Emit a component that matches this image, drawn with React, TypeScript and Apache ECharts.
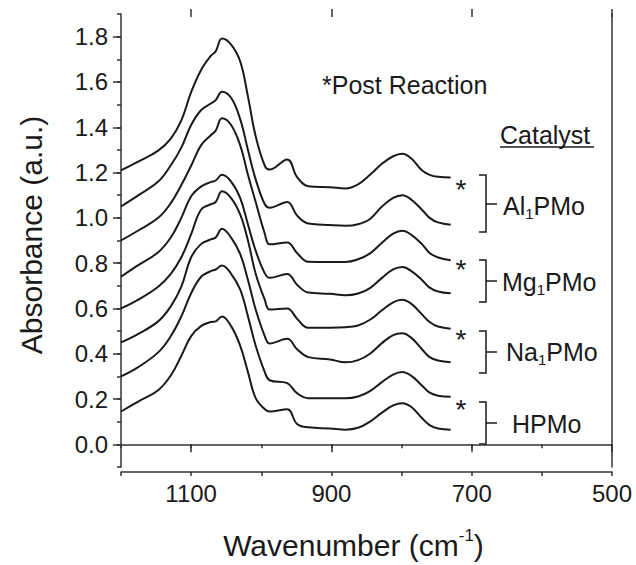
import React, { useEffect, useRef } from "react";
import * as echarts from "echarts";

const wavenumbers = [1200, 1176, 1147, 1129, 1114, 1100, 1086, 1072, 1065, 1056, 1043, 1030, 1019, 1008, 995, 988, 963, 949, 933, 902, 880, 862, 845, 828, 812, 799, 786, 771, 760, 748, 730];

const al1Post = [1.21, 1.247, 1.297, 1.35, 1.43, 1.555, 1.652, 1.715, 1.735, 1.792, 1.765, 1.69, 1.535, 1.36, 1.23, 1.213, 1.258, 1.18, 1.14, 1.135, 1.13, 1.148, 1.19, 1.239, 1.272, 1.283, 1.262, 1.21, 1.19, 1.181, 1.178];
const al1Fresh = [1.05, 1.098, 1.16, 1.232, 1.31, 1.41, 1.475, 1.505, 1.52, 1.557, 1.53, 1.435, 1.3, 1.17, 1.06, 1.045, 1.07, 1.01, 0.975, 0.968, 0.965, 0.972, 0.995, 1.05, 1.088, 1.1, 1.08, 1.036, 1.0, 0.98, 0.97];
const mg1Post = [0.9, 0.943, 1.0, 1.065, 1.145, 1.23, 1.32, 1.365, 1.385, 1.44, 1.41, 1.32, 1.19, 1.07, 0.93, 0.883, 0.891, 0.845, 0.806, 0.805, 0.805, 0.817, 0.843, 0.89, 0.93, 0.943, 0.925, 0.884, 0.845, 0.825, 0.813];
const mg1Fresh = [0.74, 0.79, 0.848, 0.913, 1.0, 1.095, 1.138, 1.158, 1.165, 1.19, 1.16, 1.087, 0.971, 0.855, 0.755, 0.735, 0.752, 0.705, 0.67, 0.665, 0.658, 0.666, 0.69, 0.735, 0.772, 0.783, 0.765, 0.726, 0.692, 0.675, 0.667];
const na1Post = [0.6, 0.638, 0.696, 0.753, 0.826, 0.928, 1.036, 1.06, 1.07, 1.117, 1.087, 1.014, 0.9, 0.753, 0.638, 0.595, 0.6, 0.555, 0.515, 0.515, 0.517, 0.525, 0.55, 0.592, 0.627, 0.638, 0.62, 0.574, 0.54, 0.52, 0.51];
const na1Fresh = [0.45, 0.487, 0.543, 0.609, 0.696, 0.826, 0.884, 0.905, 0.913, 0.952, 0.913, 0.84, 0.726, 0.595, 0.478, 0.445, 0.466, 0.42, 0.385, 0.375, 0.362, 0.372, 0.4, 0.447, 0.482, 0.49, 0.47, 0.42, 0.385, 0.37, 0.362];
const hpmoPost = [0.3, 0.34, 0.406, 0.478, 0.565, 0.667, 0.739, 0.765, 0.772, 0.79, 0.753, 0.683, 0.565, 0.435, 0.319, 0.283, 0.27, 0.226, 0.204, 0.204, 0.203, 0.211, 0.235, 0.275, 0.308, 0.319, 0.302, 0.26, 0.228, 0.215, 0.21];
const hpmoFresh = [0.145, 0.188, 0.239, 0.304, 0.391, 0.478, 0.522, 0.54, 0.543, 0.565, 0.522, 0.435, 0.319, 0.204, 0.155, 0.145, 0.155, 0.09, 0.075, 0.07, 0.065, 0.073, 0.1, 0.14, 0.172, 0.182, 0.165, 0.116, 0.085, 0.07, 0.065];

const seriesNames = ["Al1PMo post", "Al1PMo", "Mg1PMo post", "Mg1PMo", "Na1PMo post", "Na1PMo", "HPMo post", "HPMo"];
const seriesValues = [al1Post, al1Fresh, mg1Post, mg1Fresh, na1Post, na1Fresh, hpmoPost, hpmoFresh];

const xTickLabels = [1100, 900, 700, 500];
const yTickLabels = [0, 0.2, 0.4, 0.6, 0.8, 1.0, 1.2, 1.4, 1.6, 1.8];

const FONT = "'Liberation Sans', Arial, sans-serif";
const INK = "#1a1a1a";

const GRID_TOP = 14;
const GRID_BOTTOM = 93;
const CHART_H = 565;
const PLOT_H = CHART_H - GRID_TOP - GRID_BOTTOM;

export default function App() {
  const ref = useRef<HTMLDivElement>(null);
  useEffect(() => {
    if (!ref.current) return;
    const chart = echarts.init(ref.current, null, { renderer: "svg" });
    const axisLine = { show: true, lineStyle: { color: "#333", width: 1.5 } };
    const tickStyle = { color: "#333", width: 1.5 };
    const xBase = { type: "value", min: 500, max: 1200, inverse: true, splitLine: { show: false } };
    const yBase = { type: "value", min: -0.1, max: 1.9, splitLine: { show: false } };
    const option: any = {
      animation: false,
      backgroundColor: "#fff",
      grid: { left: 121, right: 24, top: GRID_TOP, bottom: GRID_BOTTOM, show: false },
      xAxis: [
        { ...xBase, position: "bottom", interval: 100, axisLine, axisTick: { show: true, length: 4, lineStyle: tickStyle }, axisLabel: { show: false } },
        {
          ...xBase, position: "bottom", axisLine: { show: false },
          axisTick: { show: true, length: 8, lineStyle: tickStyle, customValues: xTickLabels },
          axisLabel: { show: true, customValues: xTickLabels, fontSize: 24, color: INK, fontFamily: FONT, margin: 14, formatter: (v: number) => String(v) },
          name: "{n|Wavenumber (cm}{s|-1}{n|)}", nameLocation: "middle", nameGap: 60,
          nameTextStyle: {
            padding: [0, 26, 0, 0],
            rich: {
              n: { fontSize: 30, fontFamily: FONT, color: INK, lineHeight: 36 },
              s: { fontSize: 17, fontFamily: FONT, color: INK, lineHeight: 18, verticalAlign: "top" },
            },
          },
        },
        // top frame: bottom-type axes lifted to the top edge so their ticks point into the plot
        { ...xBase, position: "bottom", offset: -PLOT_H, interval: 100, axisLine, axisTick: { show: true, length: 4, lineStyle: tickStyle }, axisLabel: { show: false } },
        { ...xBase, position: "bottom", offset: -PLOT_H, axisLine: { show: false }, axisTick: { show: true, length: 8, lineStyle: tickStyle, customValues: xTickLabels }, axisLabel: { show: false } },
      ],
      yAxis: [
        { ...yBase, position: "left", interval: 0.1, axisLine, axisTick: { show: true, length: 4, lineStyle: tickStyle }, axisLabel: { show: false } },
        {
          ...yBase, position: "left", axisLine: { show: false },
          axisTick: { show: true, length: 8, lineStyle: tickStyle, customValues: yTickLabels },
          axisLabel: { show: true, customValues: yTickLabels, fontSize: 24, color: INK, fontFamily: FONT, margin: 13, formatter: (v: number) => v.toFixed(1) },
          name: "Absorbance (a.u.)", nameLocation: "middle", nameGap: 75,
          nameTextStyle: { fontSize: 30, fontFamily: FONT, color: INK, padding: [0, 0, 0, 11] },
        },
        { ...yBase, position: "right", axisLine, axisTick: { show: false }, axisLabel: { show: false } },
      ],
      series: seriesValues.map((vals, i) => ({
        name: seriesNames[i],
        type: "line",
        xAxisIndex: 0,
        yAxisIndex: 0,
        smooth: 0.4,
        showSymbol: false,
        lineStyle: { color: INK, width: 2 },
        data: wavenumbers.map((w, j) => [w, vals[j]]),
      })),
      graphic: [
        { type: "text", x: 322, y: 85, style: { text: "*Post Reaction", fontSize: 25, fontFamily: FONT, fill: INK, verticalAlign: "middle" } },
        { type: "text", x: 500, y: 135, style: { text: "Catalyst", fontSize: 25, fontFamily: FONT, fill: INK, verticalAlign: "middle" } },
        { type: "line", shape: { x1: 500, y1: 147, x2: 594, y2: 147 }, style: { stroke: INK, lineWidth: 1.5 } },
        ...[189, 269, 339, 409].map((y) => ({ type: "text", x: 461, y, style: { text: "*", fontSize: 28, fontFamily: FONT, fill: INK, align: "center", verticalAlign: "middle" } })),
        ...[[175, 232, 204], [260, 302, 281], [331, 373, 352], [402, 444, 423]].map(([a, b, m]) => ({
          type: "group",
          children: [
            { type: "polyline", shape: { points: [[479, a], [486, a], [486, b], [479, b]] }, style: { stroke: INK, lineWidth: 1.5, fill: "none" } },
            { type: "line", shape: { x1: 486, y1: m, x2: 497, y2: m }, style: { stroke: INK, lineWidth: 1.5 } },
          ],
        })),
        ...[
          [503, 206, "{n|Al}{s|1}{n|PMo}"],
          [502, 282, "{n|Mg}{s|1}{n|PMo}"],
          [506, 352, "{n|Na}{s|1}{n|PMo}"],
          [512, 424, "{n|HPMo}"],
        ].map(([x, y, t]) => ({
          type: "text", x, y,
          style: {
            text: t, verticalAlign: "middle", fill: INK,
            rich: {
              n: { fontSize: 25, fontFamily: FONT, fill: INK, lineHeight: 30 },
              s: { fontSize: 15, fontFamily: FONT, fill: INK, lineHeight: 15, verticalAlign: "bottom" },
            },
          },
        })),
      ],
    };
    chart.setOption(option);
    return () => chart.dispose();
  }, []);
  return <div ref={ref} style={{ position: "fixed", left: 0, top: 0, width: 636, height: CHART_H }} />;
}
